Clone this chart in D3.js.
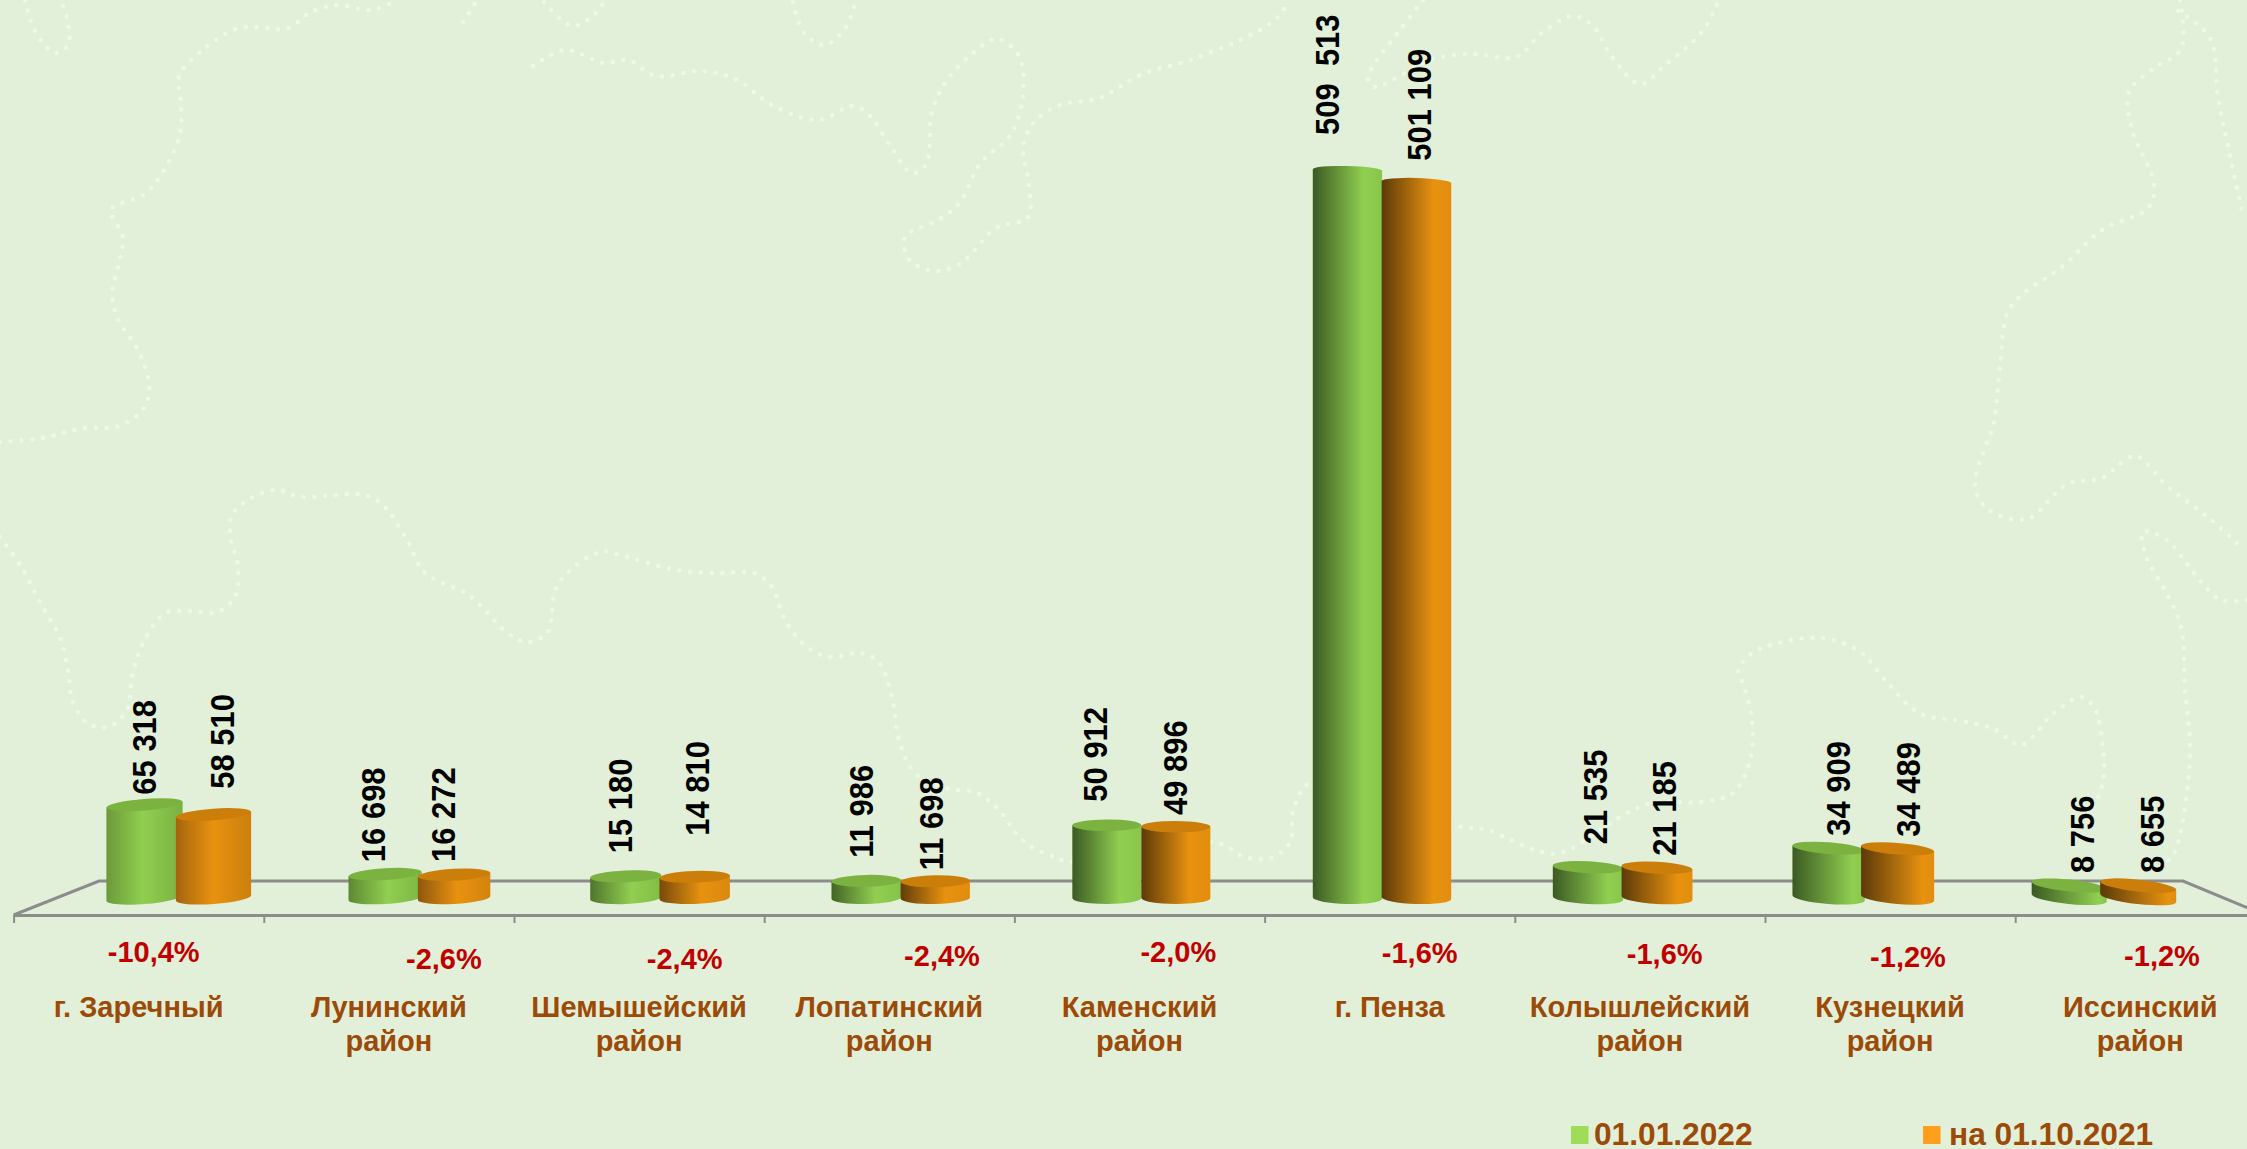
<!DOCTYPE html>
<html>
<head>
<meta charset="utf-8">
<script src="https://cdn.jsdelivr.net/npm/d3@7"></script>
<style>
  html, body { margin: 0; padding: 0; background: #e2f0d9; }
  svg { display: block; }
  text { font-family: "Liberation Sans", Arial, sans-serif; font-weight: bold; white-space: pre; }
</style>
</head>
<body>
<svg id="chart" width="2247" height="1149"></svg>
<script>
const categories = [
  "г. Заречный", "Лунинский\nрайон", "Шемышейский\nрайон", "Лопатинский\nрайон", "Каменский\nрайон",
  "г. Пенза", "Колышлейский\nрайон", "Кузнецкий\nрайон", "Иссинский\nрайон"
];
const seriesNames = ["01.01.2022", "на 01.10.2021"];
const values2022 = [65318, 16698, 15180, 11986, 50912, 509513, 21535, 34909, 8756];
const values2021 = [58510, 16272, 14810, 11698, 49896, 501109, 21185, 34489, 8655];
const changes = [-10.4, -2.6, -2.4, -2.4, -2.0, -1.6, -1.6, -1.2, -1.2];

// the slide has the labels placed by hand, so these are nudges from the bar top
const labelDx = [[0, -12, -6, -5, -12, -20, 7, 9, 13], [8.5, -11, 2, -4, -1, 2.5, 7, 10, 14]];
const labelDy = [[-10, -12, -23, -23, -23.6, -35, -23, -12.4, -12.5], [-25.7, -12.8, -41, -11, -11.7, -21.3, -12, -12, -12.6]];
const changeDx = [15, 55, 45.6, 52.7, 38.8, 30, 24.8, 17.9, 21.7];
const changeY = [961.7, 969.3, 969.3, 966, 961.7, 963.3, 964.3, 966.7, 966];
const labelOverrides = { 509513: "509  513" };

// dotted contours of the background map
const contours = [
  [[0,442],[42,438],[84,428],[119,426],[144,408],[149,384],[137,348],[119,321],[112,295],[119,263],[123,237],[111,210],[147,192],[179,138],[181,103],[179,76],[204,49],[239,28],[288,28],[309,13],[337,5],[372,10],[396,0]],
  [[25,0],[35,31],[55,53],[68,45],[67,18],[60,0]],
  [[463,22],[477,0]],
  [[544,2],[572,26],[596,13],[605,0]],
  [[793,2],[804,33],[825,45],[846,27],[856,0]],
  [[533,66],[565,50],[604,63],[628,60],[656,76],[702,71],[737,80],[772,105],[818,120],[853,106],[870,116],[891,147],[912,173],[926,165],[932,112],[947,80],[972,54],[996,39],[1018,54],[1023,94],[1011,134],[979,165],[961,201],[940,219],[905,237],[909,259],[933,271],[961,263],[996,228],[1028,217],[1028,179],[1023,147],[1035,121],[1060,105],[1100,98],[1140,75],[1190,60],[1240,40],[1275,20],[1290,0]],
  [[0,537],[20,565],[40,602],[60,638],[68,670],[73,702],[90,725],[113,725],[128,707],[132,677],[143,643],[165,613],[187,611],[217,612],[235,597],[238,567],[230,535],[233,513],[257,495],[278,490],[300,497],[333,495],[365,495],[383,505],[407,540],[425,573],[470,596],[505,631],[526,642],[547,633],[558,584],[600,552],[620,555],[676,570],[720,573],[754,573],[772,587],[785,620],[807,647],[830,657],[861,653],[879,663],[892,697],[899,740],[915,773],[946,788],[977,793],[999,810],[1022,840],[1049,855],[1073,862],[1214,842],[1245,857],[1270,858],[1290,843],[1294,807],[1312,782],[1457,826],[1487,830],[1535,850],[1560,853],[1600,830],[1627,813],[1657,802],[1700,802],[1733,793],[1750,760],[1752,720],[1742,680],[1738,670],[1751,654],[1778,643],[1821,638],[1859,651],[1886,681],[1919,713],[1962,721],[1994,729],[2021,745],[2054,713],[2081,697],[2094,707],[2100,727],[2104,767],[2100,793],[2087,815]],
  [[1423,0],[1400,30],[1368,78],[1375,87],[1403,74],[1432,59],[1473,54],[1516,57],[1543,32],[1573,16],[1594,27],[1608,51],[1640,84],[1665,65],[1702,32],[1719,0]],
  [[2178,11],[2210,38],[2218,97],[2229,151],[2243,216]],
  [[2180,0],[2181,49],[2154,68],[2129,92],[2132,130],[2154,184],[2148,208],[2102,230],[2064,265],[2010,308],[2000,367],[1994,421],[1975,486],[1989,510],[2027,519],[2067,484],[2102,478],[2135,456],[2167,486],[2210,519],[2240,546]],
  [[2247,600],[2221,600],[2194,573],[2167,540],[2143,532],[2146,556],[2167,594],[2181,627],[2185,690],[2190,747],[2184,813],[2174,853],[2160,868]]
];

const green = { dark: ["#6d9d3b", "#3c5a23"], peak: "#90cf50", edge: ["#79b041", "#88c64c"], top: "#7cb240", swatch: "#9fdc58" };
const orange = { dark: ["#b06a0e", "#5c3a08"], peak: "#e8920f", edge: ["#c97d0e", "#e38d10"], top: "#cc7e0a", swatch: "#ff9f1a" };
const palette = [green, orange];

const svg = d3.select("#chart");
const defs = svg.append("defs");
const axisColor = "#8c8c8c";
const brown = "#9c4a08";

const locale = d3.formatLocale({ decimal: ",", thousands: " ", grouping: [3], currency: ["", ""], minus: "-" });
const fmtValue = locale.format(",d");
const fmtChange = locale.format(".1f");

// front edge of the floor carries the ticks, bars stand halfway to the back edge
const frontX = d3.scaleLinear().domain([0, 9]).range([13.6, 2265.4]);
const labelX = d3.scaleBand().domain(d3.range(9)).range([13.6, 2265.4]);
const barX = d3.scaleBand().domain(d3.range(9)).range([58.7, 2224]);
const innerX = d3.scaleBand().domain([0, 1]).range([-69, 69]);
const y = d3.scaleLinear().domain([0, 509513]).range([898, 170]);
const ryScale = d3.scaleLinear().domain([0, 509513]).range([6, 4]);
const centerX = 1140;

// contours
const contourLine = d3.line().curve(d3.curveCatmullRom.alpha(0.5));
svg.append("g").selectAll("path")
  .data(contours).enter().append("path")
  .attr("d", contourLine)
  .attr("fill", "none")
  .attr("stroke", "#e9fae6")
  .attr("stroke-width", 4.5)
  .attr("stroke-linecap", "round")
  .attr("stroke-dasharray", "0 10.8");

// floor
const floor = svg.append("g")
  .attr("fill", "none")
  .attr("stroke", axisColor)
  .attr("stroke-width", 3);
floor.append("path").attr("d", d3.line()([[13.6, 915], [99, 881], [2183, 881], [2265, 915]]));

const axis = svg.append("g")
  .attr("transform", "translate(0,915)")
  .call(d3.axisBottom(frontX).tickValues(d3.range(0, 10)).tickSize(8).tickSizeOuter(0).tickFormat(""));
axis.select(".domain").attr("stroke", axisColor).attr("stroke-width", 3);
axis.selectAll(".tick line").attr("stroke", axisColor).attr("stroke-width", 2);

// bars
const allValues = [values2022, values2021];
const tone = d3.scaleLinear().domain([100, 1000]).range([0, 1]).clamp(true);
const lightPos = d3.scaleLinear().domain([0, 2247]).range([0.45, 0.92]);

function addGradient(id, cx, c) {
  const t = tone(cx);
  const g = defs.append("linearGradient").attr("id", id).attr("x1", 0).attr("x2", 1).attr("y1", 0).attr("y2", 0);
  g.append("stop").attr("offset", 0).attr("stop-color", d3.interpolateRgb(c.dark[0], c.dark[1])(t));
  g.append("stop").attr("offset", lightPos(cx)).attr("stop-color", c.peak);
  g.append("stop").attr("offset", 1).attr("stop-color", d3.interpolateRgb(c.edge[0], c.edge[1])(t));
}

const bars = svg.append("g");
categories.forEach((cat, i) => {
  allValues.forEach((vals, s) => {
    const v = vals[i];
    const cx = barX(i) + barX.bandwidth() / 2 + innerX(s) + innerX.bandwidth() / 2;
    const d = cx - centerX;
    const off = Math.abs(d) / 1000;
    const rx = (innerX.bandwidth() + 7.5 * off * off) / 2;
    const ry = ryScale(v);
    const angle = d < 0 ? 0.0045 * d : 0.0063 * d;
    const a = angle * Math.PI / 180;
    const dx = rx * Math.cos(a), dy = rx * Math.sin(a);
    const top = y(v), base = y(0);
    const id = "grad" + i + "_" + s;
    addGradient(id, cx, palette[s]);

    bars.append("path")
      .attr("d", "M" + (cx - dx) + "," + (top - dy)
        + "L" + (cx - dx) + "," + (base - dy)
        + "A" + rx + "," + 6 + " " + angle + " 0 0 " + (cx + dx) + "," + (base + dy)
        + "L" + (cx + dx) + "," + (top + dy) + "Z")
      .attr("fill", "url(#" + id + ")");
    bars.append("ellipse")
      .attr("transform", "translate(" + cx + "," + top + ") rotate(" + angle + ")")
      .attr("rx", rx)
      .attr("ry", ry)
      // the very tall bars show the body shading on the thin top
      .attr("fill", v > 100000 ? "url(#" + id + ")" : palette[s].top);
  });
});

// value labels
const labels = svg.append("g").attr("font-size", 33.5).attr("fill", "#000");
categories.forEach((cat, i) => {
  allValues.forEach((vals, s) => {
    const v = vals[i];
    const cx = barX(i) + barX.bandwidth() / 2 + innerX(s) + innerX.bandwidth() / 2 + labelDx[s][i];
    labels.append("text")
      .attr("transform", "translate(" + (cx + 12) + "," + (y(v) + labelDy[s][i]) + ") rotate(-90) scale(0.925,1)")
      .text(labelOverrides[v] || fmtValue(v));
  });
});

// percent changes
svg.append("g").selectAll("text")
  .data(changes).enter().append("text")
  .attr("x", (d, i) => labelX(i) + labelX.bandwidth() / 2 + changeDx[i])
  .attr("y", (d, i) => changeY[i])
  .attr("text-anchor", "middle")
  .attr("font-size", 29)
  .attr("fill", "#c00000")
  .text(d => fmtChange(d) + "%");

// category labels
const catText = svg.append("g").selectAll("text")
  .data(categories).enter().append("text")
  .attr("text-anchor", "middle")
  .attr("font-size", 29)
  .attr("fill", brown);
catText.each(function(d, i) {
  const x = labelX(i) + labelX.bandwidth() / 2;
  d.split("\n").forEach((line, k) => {
    d3.select(this).append("tspan").attr("x", x).attr("y", 1017 + k * 34).text(line);
  });
});

// legend
const legendX = [1571, 1923];
const legendTextX = [1594, 1949];
seriesNames.forEach((name, s) => {
  svg.append("rect")
    .attr("x", legendX[s]).attr("y", 1126)
    .attr("width", 17.5).attr("height", 18)
    .attr("fill", palette[s].swatch);
  svg.append("text")
    .attr("x", legendTextX[s]).attr("y", 1145)
    .attr("font-size", 31.7)
    .attr("fill", brown)
    .text(name);
});
</script>
</body>
</html>
